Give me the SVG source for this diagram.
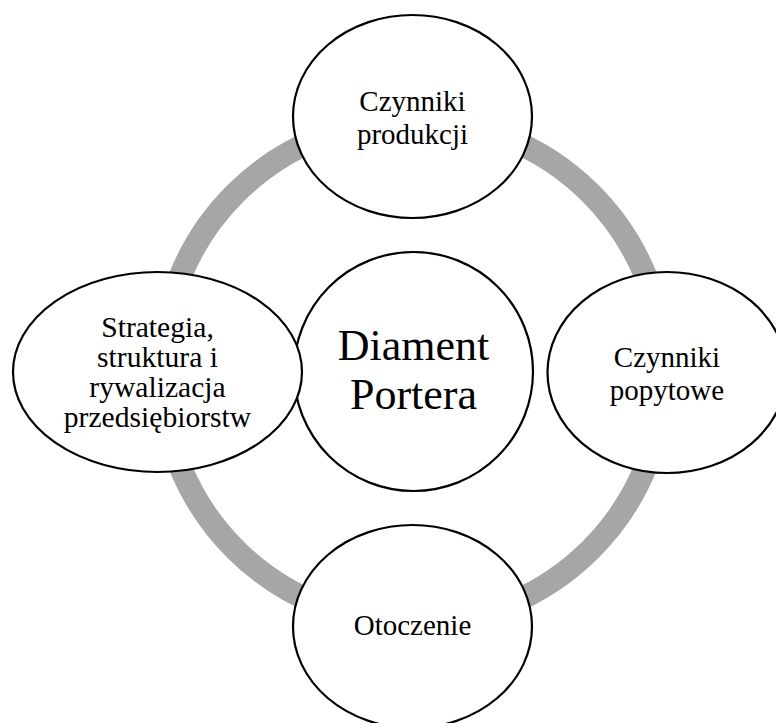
<svg xmlns="http://www.w3.org/2000/svg" width="776" height="723" viewBox="0 0 776 723">
<style>
.n{fill:#ffffff;stroke:#000000;stroke-width:2.2}
.t{font-family:"Liberation Serif","Times New Roman",serif;font-size:29px;fill:#000000;text-anchor:middle}
.big{font-size:44px}
.ring{fill:none;stroke:#a6a6a6;stroke-width:23}
</style>
<rect width="776" height="723" fill="#ffffff"/>
<g id="connectors">
<circle class="ring" cx="413" cy="371.5" r="251.5"/>
</g>
<g id="center">
<circle class="n" cx="413.5" cy="371.5" r="119.5"/>
<text class="t big" x="413.5" y="360">Diament</text>
<text class="t big" x="413.5" y="408.5">Portera</text>
</g>
<g id="top">
<ellipse class="n" cx="412.5" cy="116.5" rx="119.5" ry="101.5"/>
<text class="t" x="412.5" y="110.7">Czynniki</text>
<text class="t" x="412.5" y="143.5">produkcji</text>
</g>
<g id="right">
<ellipse class="n" cx="667" cy="372.5" rx="119.5" ry="100.5"/>
<text class="t" x="667" y="366.5">Czynniki</text>
<text class="t" x="667" y="399.5">popytowe</text>
</g>
<g id="bottom">
<ellipse class="n" cx="412.5" cy="626.5" rx="119.5" ry="101.5"/>
<text class="t" x="412.5" y="635">Otoczenie</text>
</g>
<g id="left">
<ellipse class="n" cx="157.5" cy="372" rx="144.5" ry="100"/>
<text class="t" x="157.5" y="336.7" style="font-size:29.6px">Strategia,</text>
<text class="t" x="157.5" y="366.7" style="font-size:29.6px">struktura i</text>
<text class="t" x="157.5" y="396.7" style="font-size:29.6px">rywalizacja</text>
<text class="t" x="157.5" y="426.7" style="font-size:29.6px">przedsiębiorstw</text>
</g>
</svg>
